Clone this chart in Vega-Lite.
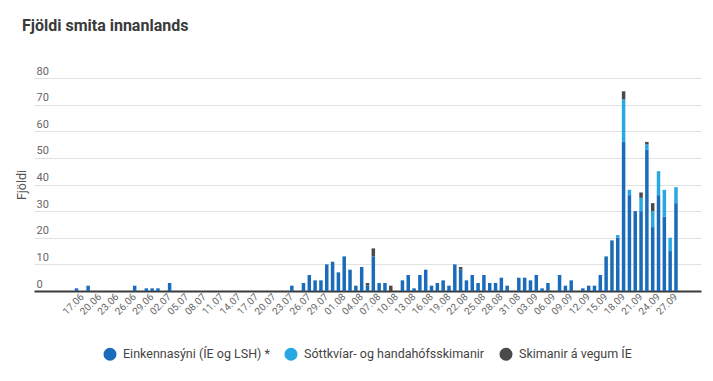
{
  "$schema": "https://vega.github.io/schema/vega-lite/v6.json",
  "width": 667,
  "height": 213,
  "autosize": "none",
  "padding": {"left": 34, "top": 78, "right": 12, "bottom": 90},
  "background": "white",
  "title": {
    "text": "Fjöldi smita innanlands",
    "anchor": "start",
    "frame": "group",
    "dx": -12,
    "offset": 31,
    "font": "Roboto",
    "fontSize": 16,
    "fontWeight": "bold",
    "color": "#3a3a3a"
  },
  "datasets": {
    "rank": [
      {"t": "Einkennasýni (ÍE og LSH) *", "r": 1},
      {"t": "Sóttkvíar- og handahófsskimanir", "r": 2},
      {"t": "Skimanir á vegum ÍE", "r": 3}
    ]
  },
  "data": {
    "values": [
      {"d": "16.06", "t": "Einkennasýni (ÍE og LSH) *", "v": 1},
      {"d": "18.06", "t": "Einkennasýni (ÍE og LSH) *", "v": 2},
      {"d": "26.06", "t": "Einkennasýni (ÍE og LSH) *", "v": 2},
      {"d": "28.06", "t": "Einkennasýni (ÍE og LSH) *", "v": 1},
      {"d": "29.06", "t": "Einkennasýni (ÍE og LSH) *", "v": 1},
      {"d": "30.06", "t": "Einkennasýni (ÍE og LSH) *", "v": 1},
      {"d": "02.07", "t": "Einkennasýni (ÍE og LSH) *", "v": 3},
      {"d": "23.07", "t": "Einkennasýni (ÍE og LSH) *", "v": 2},
      {"d": "25.07", "t": "Einkennasýni (ÍE og LSH) *", "v": 3},
      {"d": "26.07", "t": "Einkennasýni (ÍE og LSH) *", "v": 6},
      {"d": "27.07", "t": "Einkennasýni (ÍE og LSH) *", "v": 4},
      {"d": "28.07", "t": "Einkennasýni (ÍE og LSH) *", "v": 4},
      {"d": "29.07", "t": "Einkennasýni (ÍE og LSH) *", "v": 10},
      {"d": "30.07", "t": "Einkennasýni (ÍE og LSH) *", "v": 11},
      {"d": "31.07", "t": "Einkennasýni (ÍE og LSH) *", "v": 7},
      {"d": "01.08", "t": "Einkennasýni (ÍE og LSH) *", "v": 13},
      {"d": "02.08", "t": "Einkennasýni (ÍE og LSH) *", "v": 8},
      {"d": "03.08", "t": "Einkennasýni (ÍE og LSH) *", "v": 2},
      {"d": "04.08", "t": "Einkennasýni (ÍE og LSH) *", "v": 9},
      {"d": "05.08", "t": "Einkennasýni (ÍE og LSH) *", "v": 2},
      {"d": "05.08", "t": "Skimanir á vegum ÍE", "v": 1},
      {"d": "06.08", "t": "Einkennasýni (ÍE og LSH) *", "v": 13},
      {"d": "06.08", "t": "Skimanir á vegum ÍE", "v": 3},
      {"d": "07.08", "t": "Einkennasýni (ÍE og LSH) *", "v": 3},
      {"d": "08.08", "t": "Einkennasýni (ÍE og LSH) *", "v": 3},
      {"d": "09.08", "t": "Skimanir á vegum ÍE", "v": 2},
      {"d": "11.08", "t": "Einkennasýni (ÍE og LSH) *", "v": 4},
      {"d": "12.08", "t": "Einkennasýni (ÍE og LSH) *", "v": 6},
      {"d": "13.08", "t": "Einkennasýni (ÍE og LSH) *", "v": 1},
      {"d": "14.08", "t": "Einkennasýni (ÍE og LSH) *", "v": 6},
      {"d": "15.08", "t": "Einkennasýni (ÍE og LSH) *", "v": 8},
      {"d": "16.08", "t": "Einkennasýni (ÍE og LSH) *", "v": 2},
      {"d": "17.08", "t": "Einkennasýni (ÍE og LSH) *", "v": 3},
      {"d": "18.08", "t": "Einkennasýni (ÍE og LSH) *", "v": 4},
      {"d": "19.08", "t": "Einkennasýni (ÍE og LSH) *", "v": 2},
      {"d": "20.08", "t": "Einkennasýni (ÍE og LSH) *", "v": 10},
      {"d": "21.08", "t": "Einkennasýni (ÍE og LSH) *", "v": 8},
      {"d": "21.08", "t": "Skimanir á vegum ÍE", "v": 1},
      {"d": "22.08", "t": "Einkennasýni (ÍE og LSH) *", "v": 4},
      {"d": "23.08", "t": "Einkennasýni (ÍE og LSH) *", "v": 6},
      {"d": "24.08", "t": "Einkennasýni (ÍE og LSH) *", "v": 3},
      {"d": "25.08", "t": "Einkennasýni (ÍE og LSH) *", "v": 6},
      {"d": "26.08", "t": "Einkennasýni (ÍE og LSH) *", "v": 3},
      {"d": "27.08", "t": "Einkennasýni (ÍE og LSH) *", "v": 3},
      {"d": "28.08", "t": "Einkennasýni (ÍE og LSH) *", "v": 5},
      {"d": "29.08", "t": "Einkennasýni (ÍE og LSH) *", "v": 2},
      {"d": "31.08", "t": "Einkennasýni (ÍE og LSH) *", "v": 5},
      {"d": "01.09", "t": "Einkennasýni (ÍE og LSH) *", "v": 5},
      {"d": "02.09", "t": "Einkennasýni (ÍE og LSH) *", "v": 4},
      {"d": "03.09", "t": "Einkennasýni (ÍE og LSH) *", "v": 6},
      {"d": "04.09", "t": "Einkennasýni (ÍE og LSH) *", "v": 1},
      {"d": "05.09", "t": "Einkennasýni (ÍE og LSH) *", "v": 3},
      {"d": "07.09", "t": "Einkennasýni (ÍE og LSH) *", "v": 6},
      {"d": "08.09", "t": "Einkennasýni (ÍE og LSH) *", "v": 2},
      {"d": "09.09", "t": "Einkennasýni (ÍE og LSH) *", "v": 4},
      {"d": "11.09", "t": "Einkennasýni (ÍE og LSH) *", "v": 1},
      {"d": "12.09", "t": "Einkennasýni (ÍE og LSH) *", "v": 2},
      {"d": "13.09", "t": "Einkennasýni (ÍE og LSH) *", "v": 2},
      {"d": "14.09", "t": "Einkennasýni (ÍE og LSH) *", "v": 6},
      {"d": "15.09", "t": "Einkennasýni (ÍE og LSH) *", "v": 13},
      {"d": "16.09", "t": "Einkennasýni (ÍE og LSH) *", "v": 19},
      {"d": "17.09", "t": "Einkennasýni (ÍE og LSH) *", "v": 20},
      {"d": "17.09", "t": "Sóttkvíar- og handahófsskimanir", "v": 1},
      {"d": "18.09", "t": "Einkennasýni (ÍE og LSH) *", "v": 56},
      {"d": "18.09", "t": "Sóttkvíar- og handahófsskimanir", "v": 16},
      {"d": "18.09", "t": "Skimanir á vegum ÍE", "v": 3},
      {"d": "19.09", "t": "Einkennasýni (ÍE og LSH) *", "v": 36},
      {"d": "19.09", "t": "Sóttkvíar- og handahófsskimanir", "v": 2},
      {"d": "20.09", "t": "Einkennasýni (ÍE og LSH) *", "v": 30},
      {"d": "21.09", "t": "Einkennasýni (ÍE og LSH) *", "v": 30},
      {"d": "21.09", "t": "Sóttkvíar- og handahófsskimanir", "v": 5},
      {"d": "21.09", "t": "Skimanir á vegum ÍE", "v": 2},
      {"d": "22.09", "t": "Einkennasýni (ÍE og LSH) *", "v": 53},
      {"d": "22.09", "t": "Sóttkvíar- og handahófsskimanir", "v": 2},
      {"d": "22.09", "t": "Skimanir á vegum ÍE", "v": 1},
      {"d": "23.09", "t": "Einkennasýni (ÍE og LSH) *", "v": 24},
      {"d": "23.09", "t": "Sóttkvíar- og handahófsskimanir", "v": 6},
      {"d": "23.09", "t": "Skimanir á vegum ÍE", "v": 3},
      {"d": "24.09", "t": "Einkennasýni (ÍE og LSH) *", "v": 36},
      {"d": "24.09", "t": "Sóttkvíar- og handahófsskimanir", "v": 9},
      {"d": "25.09", "t": "Einkennasýni (ÍE og LSH) *", "v": 28},
      {"d": "25.09", "t": "Sóttkvíar- og handahófsskimanir", "v": 10},
      {"d": "26.09", "t": "Einkennasýni (ÍE og LSH) *", "v": 15},
      {"d": "26.09", "t": "Sóttkvíar- og handahófsskimanir", "v": 5},
      {"d": "27.09", "t": "Einkennasýni (ÍE og LSH) *", "v": 33},
      {"d": "27.09", "t": "Sóttkvíar- og handahófsskimanir", "v": 6}
    ]
  },
  "transform": [
    {"lookup": "t", "from": {"data": {"name": "rank"}, "key": "t", "fields": ["r"]}}
  ],
  "mark": {"type": "bar"},
  "encoding": {
    "x": {
      "field": "d",
      "type": "ordinal",
      "title": null,
      "scale": {
        "type": "band",
        "paddingInner": 0.4,
        "paddingOuter": 0,
        "domain": ["09.06","10.06","11.06","12.06","13.06","14.06","15.06","16.06","17.06","18.06","19.06","20.06","21.06","22.06","23.06","24.06","25.06","26.06","27.06","28.06","29.06","30.06",
          "01.07","02.07","03.07","04.07","05.07","06.07","07.07","08.07","09.07","10.07","11.07","12.07","13.07","14.07","15.07","16.07","17.07","18.07","19.07","20.07","21.07","22.07","23.07","24.07","25.07","26.07","27.07","28.07","29.07","30.07","31.07",
          "01.08","02.08","03.08","04.08","05.08","06.08","07.08","08.08","09.08","10.08","11.08","12.08","13.08","14.08","15.08","16.08","17.08","18.08","19.08","20.08","21.08","22.08","23.08","24.08","25.08","26.08","27.08","28.08","29.08","30.08","31.08",
          "01.09","02.09","03.09","04.09","05.09","06.09","07.09","08.09","09.09","10.09","11.09","12.09","13.09","14.09","15.09","16.09","17.09","18.09","19.09","20.09","21.09","22.09","23.09","24.09","25.09","26.09","27.09","28.09","29.09","30.09","01.10"]
      },
      "axis": {
        "values": ["17.06","20.06","23.06","26.06","29.06","02.07","05.07","08.07","11.07","14.07","17.07","20.07","23.07","26.07","29.07","01.08","04.08","07.08","10.08","13.08","16.08","19.08","22.08","25.08","28.08","31.08","03.09","06.09","09.09","12.09","15.09","18.09","21.09","24.09","27.09"],
        "labelAngle": -45,
        "labelAlign": "right",
        "labelBaseline": "middle",
        "labelPadding": 4,
        "labelFontSize": 10,
        "labelColor": "#666666",
        "labelFont": "Roboto",
        "ticks": false,
        "tickSize": 0,
        "domainColor": "#3a3a3a",
        "domainWidth": 2,
        "grid": false
      }
    },
    "y": {
      "field": "v",
      "type": "quantitative",
      "stack": "zero",
      "scale": {"domain": [0, 80], "nice": false},
      "axis": {
        "title": "Fjöldi",
        "titleFont": "Roboto",
        "titleFontSize": 12.5,
        "titleFontWeight": "normal",
        "titleColor": "#555555",
        "titleX": -6,
        "values": [0, 10, 20, 30, 40, 50, 60, 70, 80],
        "domain": false,
        "ticks": false,
        "tickSize": 0,
        "labelAlign": "left",
        "labelBaseline": "alphabetic",
        "labelPadding": -2,
        "labelOffset": -4,
        "labelFont": "Roboto",
        "labelFontSize": 11,
        "labelColor": "#666666",
        "gridColor": "#e2e2e2",
        "gridWidth": 1
      }
    },
    "order": {"field": "r", "type": "quantitative", "sort": "ascending"},
    "color": {
      "field": "t",
      "type": "nominal",
      "sort": ["Einkennasýni (ÍE og LSH) *", "Sóttkvíar- og handahófsskimanir", "Skimanir á vegum ÍE"],
      "scale": {
        "domain": ["Einkennasýni (ÍE og LSH) *", "Sóttkvíar- og handahófsskimanir", "Skimanir á vegum ÍE"],
        "range": ["#1a6bb9", "#27a8e3", "#4a4a4a"]
      },
      "legend": {
        "title": null,
        "orient": "bottom",
        "direction": "horizontal",
        "symbolType": "circle",
        "symbolSize": 170,
        "symbolStrokeWidth": 0,
        "labelFont": "Roboto",
        "labelFontSize": 12.5,
        "labelColor": "#444444",
        "labelLimit": 400,
        "columnPadding": 14,
        "labelOffset": 6,
        "offset": 30
      }
    }
  },
  "config": {
    "view": {"stroke": null},
    "font": "Roboto",
    "legend": {"layout": {"bottom": {"anchor": "middle"}}}
  }
}
